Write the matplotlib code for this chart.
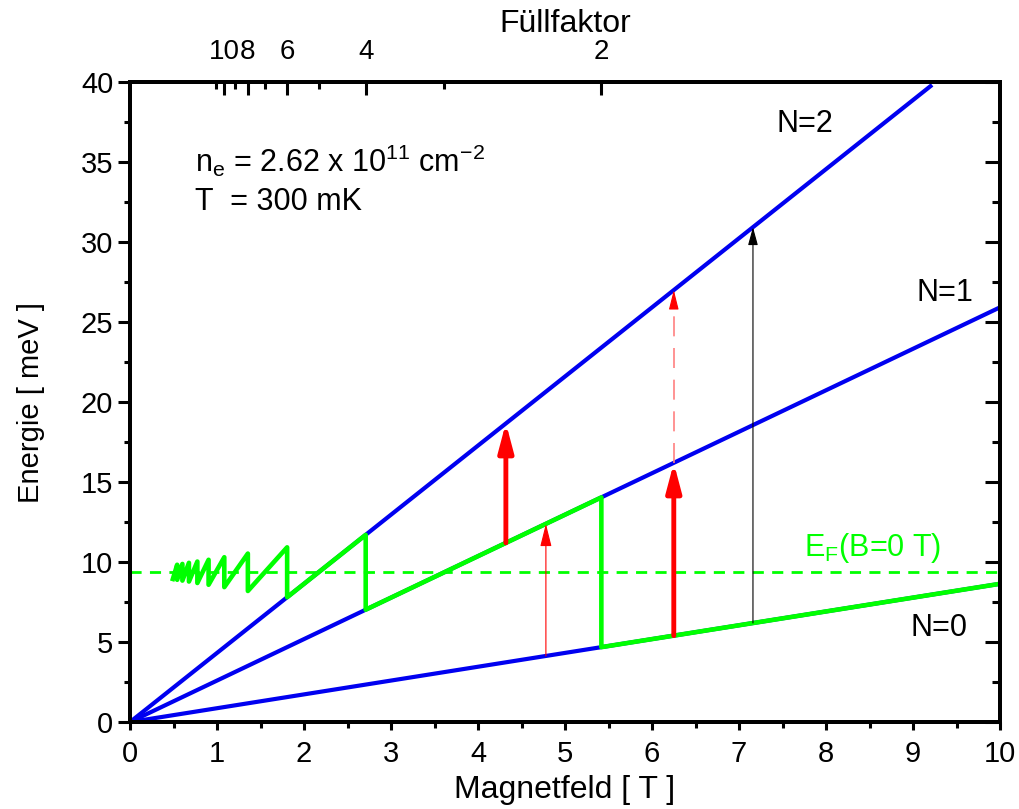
import matplotlib
matplotlib.use('agg')
import matplotlib.pyplot as plt

plt.rcParams['font.family'] = ['Liberation Sans', 'DejaVu Sans']
plt.rcParams['mathtext.fontset'] = 'custom'
plt.rcParams['mathtext.rm'] = 'Liberation Sans'
plt.rcParams['mathtext.it'] = 'Liberation Sans:italic'
plt.rcParams['mathtext.default'] = 'regular'

# Landau levels (straight lines from the origin)
n0_B = [0, 10.0]
n0_E = [0, 8.64]
n1_B = [0, 10.0]
n1_E = [0, 25.92]
n2_B = [0, 9.2]
n2_E = [0, 39.74]

# Fermi energy sawtooth (vertices)
ef_B = [0.4925, 0.5418, 0.5418, 0.6019, 0.6019, 0.6772, 0.6772, 0.7739, 0.7739,
        0.9029, 0.9029, 1.0835, 1.0835, 1.3544, 1.3544, 1.8058, 1.8058,
        2.7088, 2.7088, 5.4175, 5.4175, 10.0]
ef_E = [8.94, 9.83, 8.89, 9.88, 8.84, 9.95, 8.78, 10.03, 8.69,
        10.14, 8.58, 10.30, 8.43, 10.53, 8.19, 10.92, 7.80,
        11.70, 7.02, 14.04, 4.68, 8.64]
ef0 = 9.36

# arrows: (B, E_start, E_end)
thick_arrows = [(4.32, 11.2, 18.7), (6.25, 5.4, 16.2)]
thin_red = (4.78, 4.13, 12.39)
dashed_red = (6.25, 16.2, 27.0)
black_arrow = (7.16, 6.19, 30.93)

# top axis: filling factor
n_e = 2.62e15  # m^-2
nu_major = [2, 4, 6, 8, 10]
nu_minor = [3, 5, 7, 9, 11]

def nu_to_B(nu):
    return n_e * 4.135667e-15 / nu

fig = plt.figure(figsize=(10.19, 8.09), dpi=100)
ax = fig.add_axes([0.1276, 0.1075, 0.8538, 0.7911])

blue = '#0000f0'
green = '#00ff00'
ax.plot(n0_B, n0_E, color=blue, lw=3, zorder=2)
ax.plot(n1_B, n1_E, color=blue, lw=3, zorder=2)
ax.plot(n2_B, n2_E, color=blue, lw=3, zorder=2)
ax.axhline(ef0, color=green, lw=2, dashes=(4, 3), zorder=1)
ax.plot(ef_B, ef_E, color=green, lw=3.3, zorder=3)

for b, e0, e1 in thick_arrows:
    ax.annotate('', xy=(b, e1), xytext=(b, e0),
                arrowprops=dict(arrowstyle='-|>,head_length=1.7,head_width=0.45',
                                lw=3.5, color='red', shrinkA=0, shrinkB=0,
                                mutation_scale=10), zorder=4)
b, e0, e1 = thin_red
ax.annotate('', xy=(b, e1), xytext=(b, e0),
            arrowprops=dict(arrowstyle='-|>,head_length=1.4,head_width=0.35',
                            lw=0.8, color='red', shrinkA=0, shrinkB=0,
                            mutation_scale=10), zorder=4)
b, e0, e1 = dashed_red
ax.plot([b, b], [e0, e1 - 1.0], color='#ff8080', lw=1.2, dashes=(12, 7), zorder=4)
ax.annotate('', xy=(b, e1), xytext=(b, e1 - 1.0),
            arrowprops=dict(arrowstyle='-|>,head_length=1.2,head_width=0.3',
                            lw=0.8, color='red', shrinkA=0, shrinkB=0,
                            mutation_scale=10), zorder=4)
b, e0, e1 = black_arrow
ax.annotate('', xy=(b, e1), xytext=(b, e0),
            arrowprops=dict(arrowstyle='-|>,head_length=1.1,head_width=0.3',
                            lw=0.8, color='black', shrinkA=0, shrinkB=0,
                            mutation_scale=10), zorder=4)

fs = 21
tfs = 22
ax.text(7.76, 37.4, 'N=2', fontsize=tfs, ha='center', va='center')
ax.text(9.37, 26.8, 'N=1', fontsize=tfs, ha='center', va='center')
ax.text(9.3, 5.9, 'N=0', fontsize=tfs, ha='center', va='center')
ax.text(8.53, 10.9, r'E$_F$(B=0 T)', fontsize=tfs, ha='center', va='center', color=green)
ax.text(0.75, 34.4, r'n$_e$ = 2.62 x 10$^{11}$ cm$^{-2}$', fontsize=tfs, va='baseline')
ax.text(0.75, 32.0, 'T  = 300 mK', fontsize=tfs, va='baseline')

ax.set_xlim(0, 10)
ax.set_ylim(0, 40)
ax.set_xticks(range(0, 11))
ax.set_xticks([i + 0.5 for i in range(10)], minor=True)
ax.set_yticks(range(0, 41, 5))
ax.set_yticks([i + 2.5 for i in range(0, 40, 5)], minor=True)
ax.tick_params(axis='x', which='major', labelsize=fs, width=2.2, length=6, direction='out', pad=7)
ax.tick_params(axis='x', which='minor', width=2.2, length=4, direction='out')
ax.tick_params(axis='y', which='major', labelsize=fs, width=2.2, length=9, direction='out', pad=3)
ax.tick_params(axis='y', which='minor', width=2.2, length=4, direction='out')
for sp in ax.spines.values():
    sp.set_linewidth(2.8)
ax.set_xlabel('Magnetfeld [ T ]', fontsize=23, labelpad=5)
ax.set_ylabel('Energie [ meV ]', fontsize=21, labelpad=26)

# right axis: inward ticks, no labels
ax3 = ax.twinx()
ax3.set_ylim(0, 40)
ax3.set_yticks(range(0, 41, 5))
ax3.set_yticks([i + 2.5 for i in range(0, 40, 5)], minor=True)
ax3.tick_params(axis='y', which='major', width=2.2, length=11, direction='in', labelright=False)
ax3.tick_params(axis='y', which='minor', width=2.2, length=6, direction='in')

ax2 = ax.twiny()
ax2.set_xlim(0, 10)
ax2.set_xticks([nu_to_B(v) for v in nu_major])
ax2.set_xticklabels([str(v) for v in nu_major])
ax2.set_xticks([nu_to_B(v) for v in nu_minor], minor=True)
ax2.tick_params(axis='x', which='major', labelsize=20, width=2.2, length=9, direction='in', pad=12)
ax2.tick_params(axis='x', which='minor', width=2.2, length=5, direction='in')
ax2.set_xlabel('Füllfaktor', fontsize=23, labelpad=5)
for a in (ax2, ax3):
    for sp in a.spines.values():
        sp.set_linewidth(2.8)

fig.savefig('out.png', dpi=100)
